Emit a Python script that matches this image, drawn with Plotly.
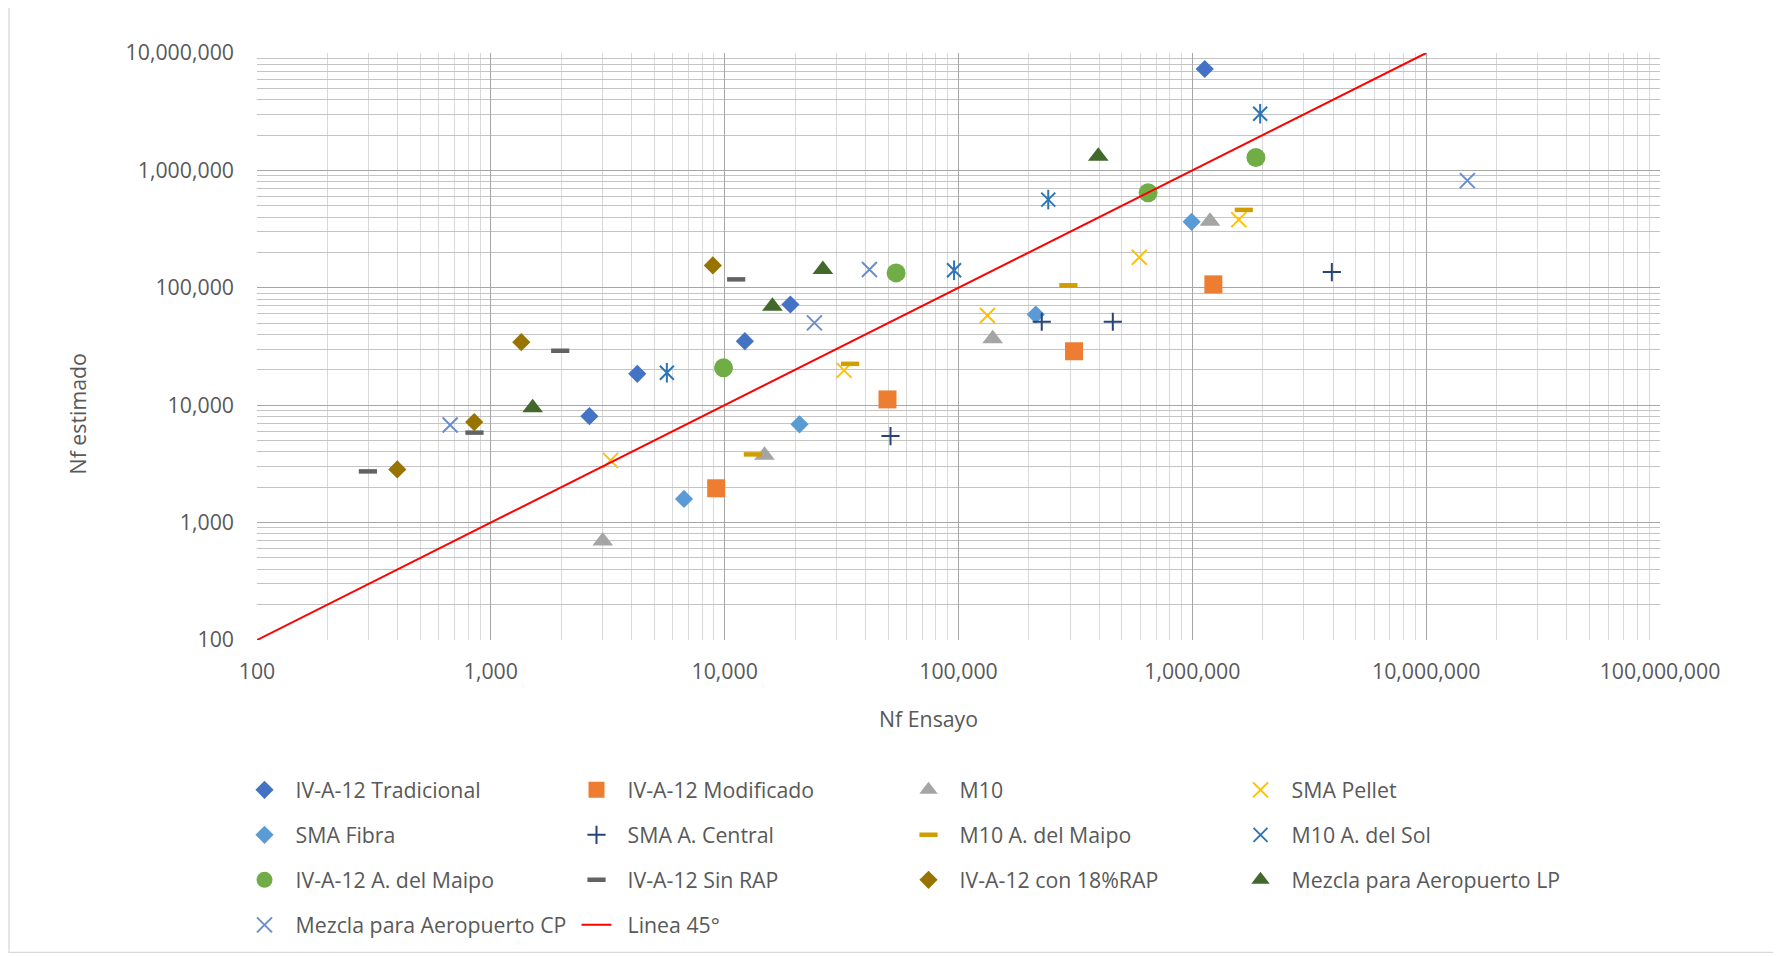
import plotly.graph_objects as go

# ---------------- data (Nf Ensayo, Nf estimado) ----------------
trad_x = [2640, 4230, 12200, 19100, 1130000]
trad_y = [8070, 18500, 35100, 72100, 7310000]

mod_x = [9200, 49700, 312000, 1230000]
mod_y = [1960, 11200, 28800, 107000]

m10_x = [3010, 14800, 140000, 1190000]
m10_y = [697, 3740, 36800, 369000]

pellet_x = [3250, 32400, 133000, 593000, 1580000]
pellet_y = [3390, 19800, 58000, 182000, 381000]

fibra_x = [6700, 20900, 214000, 993000]
fibra_y = [1590, 6870, 59100, 365000]

central_x = [51200, 227000, 457000, 3950000]
central_y = [5460, 51400, 51400, 136000]

m10maipo_x = [13200, 34400, 295000, 1660000]
m10maipo_y = [3810, 22500, 105000, 461000]

m10sol_x = [5660, 95700, 242000, 1950000]
m10sol_y = [18900, 141000, 564000, 3040000]

ivmaipo_x = [9890, 54100, 647000, 1870000]
ivmaipo_y = [20800, 134000, 644000, 1290000]

sinrap_x = [298, 851, 1980, 11200]
sinrap_y = [2730, 5840, 29100, 118000]

rap18_x = [398, 849, 1350, 8900]
rap18_y = [2840, 7180, 34400, 155000]

lp_x = [1510, 16000, 26300, 396000]
lp_y = [9530, 69700, 143000, 1320000]

cp_x = [670, 24200, 41600, 15000000]
cp_y = [6780, 50300, 143000, 818000]

line45_x = [100, 10000000]
line45_y = [100, 10000000]

x_ticks = [100, 1000, 10000, 100000, 1000000, 10000000, 100000000]
y_ticks = [100, 1000, 10000, 100000, 1000000, 10000000]

FONT = "Open Sans"
TXT = "#595959"
FS = 21.3
PAD = "\u00a0\u00a0"  # spacing between legend symbol and text

fig = go.Figure()

def add(name, xs, ys, symbol, color, size, legend, filled=True, lw=2):
    if filled:
        marker = dict(symbol=symbol, color=color, size=size, line=dict(width=0))
    else:
        marker = dict(symbol=symbol, color=color, size=size, line=dict(width=lw, color=color))
    fig.add_trace(go.Scatter(x=xs, y=ys, mode="markers", name=PAD + name, marker=marker,
                             legend=legend, legendgroup=name))

# row 1
add("IV-A-12 Tradicional", trad_x, trad_y, "diamond", "#4472C4", 14, "legend")
add("IV-A-12 Modificado", mod_x, mod_y, "square", "#ED7D31", 18, "legend")
add("M10", m10_x, m10_y, "triangle-up", "#A5A5A5", 18, "legend")
add("SMA Pellet", pellet_x, pellet_y, "x-thin-open", "#FFC000", 15, "legend", filled=False)
# row 2
add("SMA Fibra", fibra_x, fibra_y, "diamond", "#5B9BD5", 14, "legend2")
add("SMA A. Central", central_x, central_y, "cross-thin-open", "#264478", 13, "legend2", filled=False)
add("M10 A. del Maipo", m10maipo_x, m10maipo_y, "line-ew-open", "#D09E00", 13, "legend2", filled=False, lw=4.5)
add("M10 A. del Sol", m10sol_x, m10sol_y, "x-thin-open", "#2E75B6", 14, "legend2", filled=False)
# vertical stroke completing Excel's star marker
fig.add_trace(go.Scatter(x=m10sol_x, y=m10sol_y, mode="markers", showlegend=False,
                         legendgroup="M10 A. del Sol", legend="legend2", hoverinfo="skip",
                         marker=dict(symbol="line-ns-open", size=14, color="#2E75B6",
                                     line=dict(width=2, color="#2E75B6"))))
# row 3
add("IV-A-12 A. del Maipo", ivmaipo_x, ivmaipo_y, "circle", "#70AD47", 19, "legend3")
add("IV-A-12 Sin RAP", sinrap_x, sinrap_y, "line-ew-open", "#636363", 13, "legend3", filled=False, lw=4.5)
add("IV-A-12 con 18%RAP", rap18_x, rap18_y, "diamond", "#997300", 14, "legend3")
add("Mezcla para Aeropuerto LP", lp_x, lp_y, "triangle-up", "#43682B", 18, "legend3")
# row 4
add("Mezcla para Aeropuerto CP", cp_x, cp_y, "x-thin-open", "#698ED0", 15, "legend4", filled=False)
fig.add_trace(go.Scatter(x=line45_x, y=line45_y, mode="lines", name=PAD + "Linea 45°",
                         line=dict(color="#FF0000", width=2), legend="legend4"))

# geometry: page has an 8px body margin
OFF = 8
W, H = 1781 - OFF, 956 - OFF
L, R, T, B = 249, 121, 45, 315
PW, PH = W - L - R, H - T - B

def px2paper_x(px):  # page px -> paper
    return (px - OFF - L) / PW

def py2paper_y(py):
    return 1 - (py - OFF - T) / PH

axis_common = dict(
    type="log", showline=False, zeroline=False, ticks="",
    tickformat=",.0f", gridcolor="#A6A6A6", gridwidth=1.3,
    tickfont=dict(family=FONT, size=FS, color=TXT),
)
fig.update_xaxes(**axis_common, range=[2, 8], tickvals=x_ticks, ticklabelstandoff=17,
                 minor=dict(showgrid=True, gridcolor="#D9D9D9", gridwidth=1.3, dtick="D1"))
fig.update_yaxes(**axis_common, range=[2, 7], tickvals=y_ticks, ticklabelstandoff=22,
                 minor=dict(showgrid=True, gridcolor="#C4C4C4", gridwidth=1.3, dtick="D1"))

legend_common = dict(orientation="h", font=dict(family=FONT, size=FS, color=TXT),
                     entrywidth=287, entrywidthmode="pixels", xanchor="left",
                     yanchor="middle", bgcolor="rgba(0,0,0,0)", itemclick=False)
row_y = [790, 835, 880, 925]
lx = px2paper_x(244.5)
fig.update_layout(
    legend=dict(**legend_common, x=lx, y=py2paper_y(row_y[0])),
    legend2=dict(**legend_common, x=lx, y=py2paper_y(row_y[1])),
    legend3=dict(**legend_common, x=lx, y=py2paper_y(row_y[2])),
    legend4=dict(**legend_common, x=lx, y=py2paper_y(row_y[3])),
)

fig.update_layout(
    width=W, height=H,
    margin=dict(l=L, r=R, t=T, b=B),
    paper_bgcolor="white", plot_bgcolor="white",
    font=dict(family=FONT, size=FS, color=TXT),
    annotations=[
        dict(text="Nf Ensayo", x=px2paper_x(928), y=py2paper_y(720), xref="paper", yref="paper",
             showarrow=False, font=dict(family=FONT, size=FS, color=TXT),
             xanchor="center", yanchor="middle"),
        dict(text="Nf estimado", x=px2paper_x(77), y=py2paper_y(415), xref="paper", yref="paper",
             showarrow=False, textangle=-90, font=dict(family=FONT, size=FS, color=TXT),
             xanchor="center", yanchor="middle"),
    ],
    shapes=[
        dict(type="rect", xref="paper", yref="paper",
             x0=px2paper_x(9), x1=px2paper_x(1778), y0=py2paper_y(954), y1=py2paper_y(6),
             line=dict(color="#D9D9D9", width=1.3), layer="below"),
    ],
)

fig.write_html("out.html")
